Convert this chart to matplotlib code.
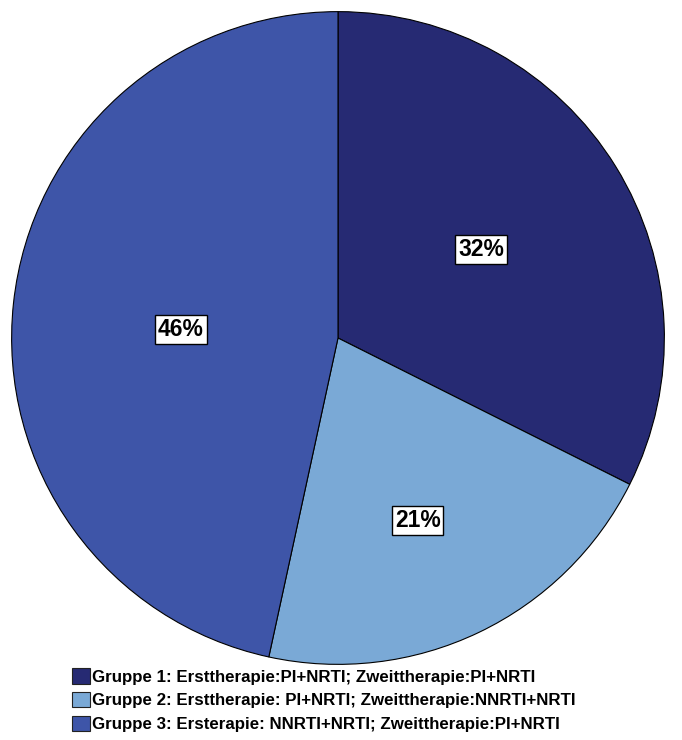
import matplotlib
matplotlib.use("Agg")
import matplotlib.pyplot as plt
from matplotlib.patches import Patch

# data
groups = ["Gruppe 1: Ersttherapie:PI+NRTI; Zweittherapie:PI+NRTI",
          "Gruppe 2: Ersttherapie: PI+NRTI; Zweittherapie:NNRTI+NRTI",
          "Gruppe 3: Ersterapie: NNRTI+NRTI; Zweittherapie:PI+NRTI"]
shares = [32.4, 21.0, 46.6]
pct_labels = ["32%", "21%", "46%"]
colors = ["#262a73", "#7aa9d6", "#3e55a8"]

plt.rcParams['font.family'] = ['Liberation Sans', 'DejaVu Sans']

fig = plt.figure(figsize=(6.82, 7.4), dpi=100)
W, H = 682, 740
# pie centre ~ (338,338), radius ~328 px
ax = fig.add_axes([10 / W, (H - 666) / H, 656 / W, 656 / H])
wedges, _ = ax.pie(shares, colors=colors, startangle=90, counterclock=False,
                   radius=1.0, wedgeprops=dict(edgecolor='black', linewidth=0.8))
ax.set_xlim(-1.005, 1.005)
ax.set_ylim(-1.005, 1.005)
ax.set_aspect('equal')
ax.axis('off')

# percent boxes (positions in pie-radius units, as in the original)
label_pos = [(0.439, 0.271), (0.244, -0.558), (-0.482, 0.027)]
for (lx, ly), txt in zip(label_pos, pct_labels):
    ax.text(lx, ly, txt, ha='center', va='center',
            fontsize=16.5, fontweight='bold',
            bbox=dict(boxstyle='square,pad=0.13', facecolor='white',
                      edgecolor='black', linewidth=1.0))

handles = [Patch(facecolor=c, edgecolor='#222222', linewidth=0.8) for c in colors]
fig.legend(handles, groups, loc='upper left',
           bbox_to_anchor=(72 / W, 1 - 668 / H), frameon=False,
           borderpad=0, borderaxespad=0, handlelength=1.05, handleheight=1.05,
           handletextpad=0.15, labelspacing=0.42,
           prop=dict(size=12.2, weight='bold'))

fig.savefig("out.png", dpi=100, facecolor='white')
